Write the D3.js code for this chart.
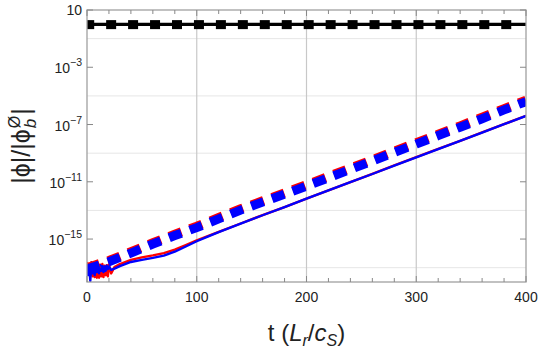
<!DOCTYPE html>
<html>
<head>
<meta charset="utf-8">
<script src="https://cdn.jsdelivr.net/npm/d3@7"></script>
<style>
  html, body { margin: 0; padding: 0; background: #fff; }
  svg { display: block; }
  text { font-family: "Liberation Sans", Arial, sans-serif; fill: #222; }
</style>
</head>
<body>
<svg id="chart" width="540" height="350"></svg>
<script>
// ---------------- data ----------------
const xTickValues = [0, 100, 200, 300, 400];
const yTickExponents = [1, -3, -7, -11, -15];
const yGridExponents = [-1, -5, -9, -13, -17];

// reference black line (|phi| = 1) with square markers
const blackT = [0, 400];
const blackV = [1, 1];
const markerT = [2, 22, 42, 62, 82, 102, 122, 142, 162, 182, 202, 222, 242, 262, 282, 302, 322, 342, 362, 382];

// thick dashed curves
const dashT = [0, 20, 40, 60, 80, 100, 120, 140, 160, 180, 200, 220, 240, 260, 280, 300, 320, 340, 360, 380, 400];
const redDashV = [1.0e-17, 3.2e-17, 1.3e-16, 5.6e-16, 2.2e-15, 7.9e-15, 3.2e-14, 1.3e-13, 4.7e-13, 1.7e-12,
                  6.3e-12, 2.4e-11, 9.1e-11, 3.5e-10, 1.4e-9, 5.4e-9, 2.1e-8, 8.1e-8, 3.2e-7, 1.3e-6, 5.0e-6];
const blueDashV = [8.0e-18, 2.6e-17, 1.05e-16, 4.5e-16, 1.75e-15, 6.3e-15, 2.55e-14, 1.05e-13, 3.8e-13, 1.36e-12,
                   5.0e-12, 1.9e-11, 7.3e-11, 2.8e-10, 1.12e-9, 4.3e-9, 1.7e-8, 6.5e-8, 2.55e-7, 1.05e-6, 4.0e-6];

// thin solid curves
const solidT = [0, 1, 2, 3, 4, 5, 6, 7, 8, 9, 10, 11, 12, 13, 14, 15, 16, 17, 18, 19, 20, 22, 25, 30, 40, 50, 60, 70, 80, 90,
                100, 110, 120, 140, 160, 180, 200, 220, 240, 260, 280, 300, 320, 340, 360, 380, 400];
const blueSolidV = [2.0e-17, 3.0e-18, 1.5e-17, 1.2e-18, 2.2e-17, 4.0e-18, 1.6e-17, 3.0e-18, 1.8e-17, 5.0e-18,
                    1.4e-17, 4.0e-18, 1.5e-17, 6.0e-18, 1.3e-17, 5.0e-18, 1.2e-17, 6.0e-18, 1.4e-17, 8.0e-18,
                    1.2e-17, 7.0e-18, 8.5e-18, 1.3e-17, 2.5e-17, 3.5e-17, 4.8e-17, 7.0e-17, 1.3e-16, 3.0e-16,
                    7.0e-16, 1.5e-15, 3.1e-15, 1.2e-14, 4.6e-14, 1.7e-13, 6.6e-13, 2.5e-12, 9.3e-12, 3.5e-11,
                    1.35e-10, 5.1e-10, 1.95e-9, 7.2e-9, 2.75e-8, 1.05e-7, 4.0e-7];
const redSolidV = [2.5e-17, 6.0e-18, 1.8e-17, 3.0e-18, 2.4e-17, 2.5e-18, 2.0e-17, 2.2e-18, 1.6e-17, 2.0e-18,
                   1.8e-17, 2.0e-18, 1.6e-17, 2.5e-18, 1.8e-17, 2.2e-18, 1.4e-17, 3.0e-18, 1.5e-17, 2.5e-18,
                   1.7e-17, 4.0e-18, 1.1e-17, 1.8e-17, 3.5e-17, 5.2e-17, 7.2e-17, 1.05e-16, 1.8e-16, 3.8e-16,
                   8.0e-16, 1.6e-15, 3.2e-15, 1.22e-14, 4.7e-14, 1.73e-13, 6.7e-13, 2.55e-12, 9.5e-12, 3.57e-11,
                   1.38e-10, 5.2e-10, 1.99e-9, 7.35e-9, 2.8e-8, 1.07e-7, 4.08e-7];

// ---------------- layout ----------------
const svg = d3.select("#chart");
const L = 87, R = 526, T = 10, B = 282;
const x = d3.scaleLinear().domain([0, 400]).range([L, R]);
const y = d3.scaleLog().domain([1e-18, 10]).range([B, T]);

svg.append("defs").append("clipPath").attr("id", "plotclip")
  .append("rect").attr("x", L).attr("y", T).attr("width", R - L).attr("height", B - T);

// grid lines
svg.append("g").selectAll("line").data(yGridExponents).join("line")
  .attr("x1", L).attr("x2", R)
  .attr("y1", d => y(Math.pow(10, d))).attr("y2", d => y(Math.pow(10, d)))
  .attr("stroke", "#e6e6e6").attr("stroke-width", 1);
svg.append("g").selectAll("line").data([100, 200, 300]).join("line")
  .attr("x1", d => x(d)).attr("x2", d => x(d))
  .attr("y1", T).attr("y2", B)
  .attr("stroke", "#c8c8c8").attr("stroke-width", 1.2);

const plot = svg.append("g").attr("clip-path", "url(#plotclip)");

const line = (ts, vs) => d3.line().x((d, i) => x(ts[i])).y(d => y(d))(vs);

// solid thin curves
plot.append("path").attr("d", line(solidT, redSolidV))
  .attr("fill", "none").attr("stroke", "#ff0000").attr("stroke-width", 2.4).attr("stroke-linejoin", "round");
plot.append("path").attr("d", line(solidT, blueSolidV))
  .attr("fill", "none").attr("stroke", "#0000ff").attr("stroke-width", 2.4).attr("stroke-linejoin", "round");

// thick dashed curves
plot.append("path").attr("d", line(dashT, redDashV))
  .attr("fill", "none").attr("stroke", "#ff0000").attr("stroke-width", 9).attr("stroke-dasharray", "13,9");
plot.append("path").attr("d", line(dashT, blueDashV))
  .attr("fill", "none").attr("stroke", "#0000ff").attr("stroke-width", 9).attr("stroke-dasharray", "13,9");

// black line and markers
plot.append("path").attr("d", line(blackT, blackV))
  .attr("fill", "none").attr("stroke", "#000").attr("stroke-width", 3.2);
plot.append("g").selectAll("rect").data(markerT).join("rect")
  .attr("x", d => x(d) - 5).attr("y", y(1) - 4.2)
  .attr("width", 10).attr("height", 9).attr("fill", "#000");

// frame
svg.append("rect").attr("x", L).attr("y", T).attr("width", R - L).attr("height", B - T)
  .attr("fill", "none").attr("stroke", "#a0a0a0").attr("stroke-width", 1.3);

// ticks
const xMinor = d3.range(0, 401, 20);
const tickG = svg.append("g").attr("stroke", "#888").attr("stroke-width", 1);
tickG.selectAll(".xb").data(xMinor).join("line")
  .attr("x1", d => x(d)).attr("x2", d => x(d))
  .attr("y1", B).attr("y2", d => B - (d % 100 === 0 ? 6 : 4));
tickG.selectAll(".xt").data(xMinor).join("line")
  .attr("x1", d => x(d)).attr("x2", d => x(d))
  .attr("y1", T).attr("y2", d => T + (d % 100 === 0 ? 6 : 4));
tickG.selectAll(".yl").data(yTickExponents).join("line")
  .attr("x1", L).attr("x2", L + 6)
  .attr("y1", d => y(Math.pow(10, d))).attr("y2", d => y(Math.pow(10, d)));
tickG.selectAll(".yr").data(yTickExponents).join("line")
  .attr("x1", R).attr("x2", R - 6)
  .attr("y1", d => y(Math.pow(10, d))).attr("y2", d => y(Math.pow(10, d)));

// x tick labels
svg.append("g").selectAll("text").data(xTickValues).join("text")
  .attr("x", d => x(d)).attr("y", B + 20)
  .attr("text-anchor", "middle").attr("font-size", 14).text(d => d);

// y tick labels
const yl = svg.append("g").selectAll("text").data(yTickExponents).join("text")
  .attr("x", L - 5).attr("y", d => y(Math.pow(10, d)) + 6)
  .attr("text-anchor", "end").attr("font-size", 14);
yl.each(function(d) {
  const t = d3.select(this);
  if (d === 1) { t.attr("y", y(10) + 5).text("10"); return; }
  t.append("tspan").text("10");
  t.append("tspan").attr("dy", -7).attr("font-size", 10.5).text("\u2212" + Math.abs(d));
});

// x axis title
const xt = svg.append("text").attr("x", (L + R) / 2).attr("y", 341)
  .attr("text-anchor", "middle").attr("font-size", 24);
xt.append("tspan").text("t (");
xt.append("tspan").attr("font-style", "italic").text("L");
xt.append("tspan").attr("font-size", 16).attr("font-style", "italic").attr("dy", 5).text("r");
xt.append("tspan").attr("dy", -5).text("/");
xt.append("tspan").attr("font-style", "italic").text("c");
xt.append("tspan").attr("font-size", 16).attr("font-style", "italic").attr("dy", 5).text("S");
xt.append("tspan").attr("dy", -5).text(")");

// y axis title (rotated), built piecewise so sub/superscript stack
const yg = svg.append("g").attr("transform", "translate(30,146) rotate(-90)");
const yt = yg.append("text").attr("font-size", 25).attr("font-family", "DejaVu Sans");
yt.append("tspan").text("|\u03D5|/|\u03D5");
const baseW = yt.node().getComputedTextLength();
const subB = yg.append("text").attr("font-size", 17).attr("font-style", "italic").attr("x", baseW + 1).attr("y", 6).text("b");
const supE = yg.append("text").attr("font-size", 16).attr("x", baseW + 1).attr("y", -10).text("\u00D8");
const w2 = Math.max(subB.node().getComputedTextLength(), supE.node().getComputedTextLength());
const closeBar = yg.append("text").attr("font-size", 25).attr("font-family", "DejaVu Sans").attr("x", baseW + w2 + 2).text("|");
const totalW = baseW + w2 + 2 + closeBar.node().getComputedTextLength();
yg.selectAll("text").attr("transform", `translate(${-totalW / 2},0)`);
</script>
</body>
</html>
